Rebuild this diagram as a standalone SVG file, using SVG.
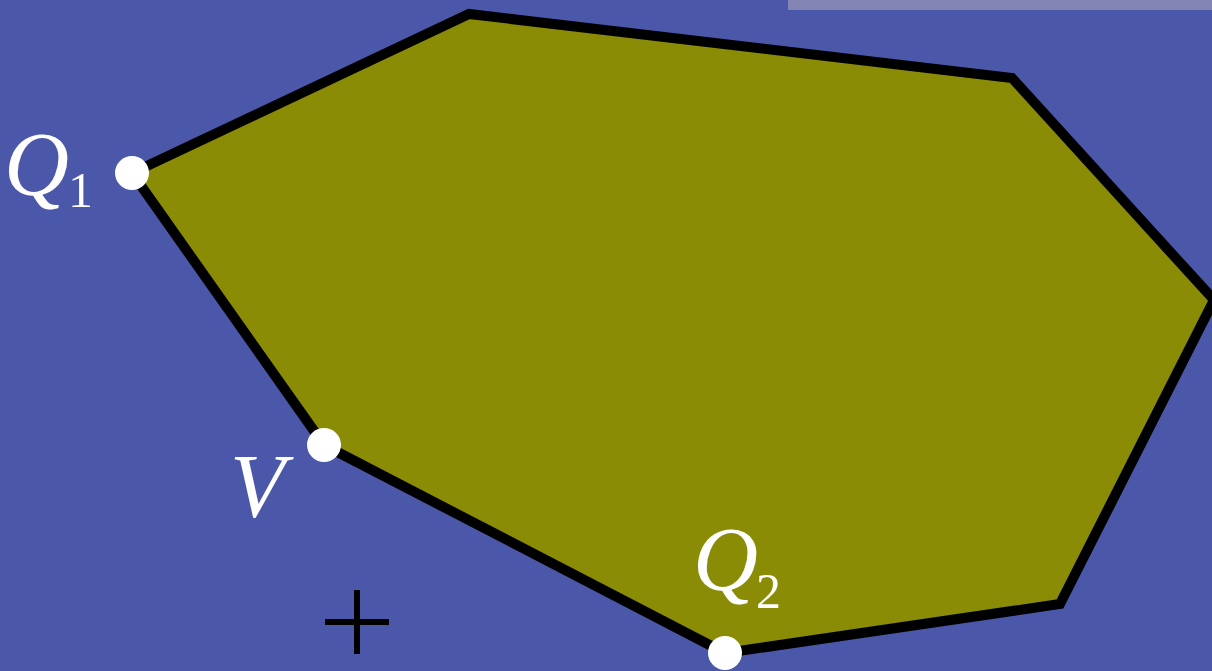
<svg xmlns="http://www.w3.org/2000/svg" width="1212" height="671" viewBox="0 0 1212 671">
<style>
.lbl{font-family:"Liberation Serif","DejaVu Serif",serif;font-style:italic;fill:#fff;font-size:90px}
.sub{font-family:"Liberation Serif","DejaVu Serif",serif;fill:#fff;font-size:50px}
.dot{fill:#fff}
</style>
<rect width="1212" height="671" fill="#4B58AA"/>
<rect x="788" y="0" width="424" height="10" fill="#8386B3"/>
<g id="polygon">
<polygon points="132,173 469,14 1012,78 1214,300 1060,604 725,653 324,445" fill="#8A8C05" stroke="#000" stroke-width="10" stroke-linejoin="miter"/>
</g>
<g id="Q1"><circle class="dot" cx="132" cy="173" r="17"/><text class="lbl" x="4" y="195">Q</text><text class="sub" x="68" y="207">1</text></g>
<g id="V"><circle class="dot" cx="324" cy="445" r="17"/><text class="lbl" x="230" y="517">V</text></g>
<g id="Q2"><circle class="dot" cx="725" cy="653" r="17"/><text class="lbl" x="693" y="590">Q</text><text class="sub" x="756" y="608">2</text></g>
<g id="plus" stroke="#000" stroke-width="6"><line x1="357" y1="590" x2="357" y2="654"/><line x1="325" y1="622" x2="389" y2="622"/></g>
</svg>
